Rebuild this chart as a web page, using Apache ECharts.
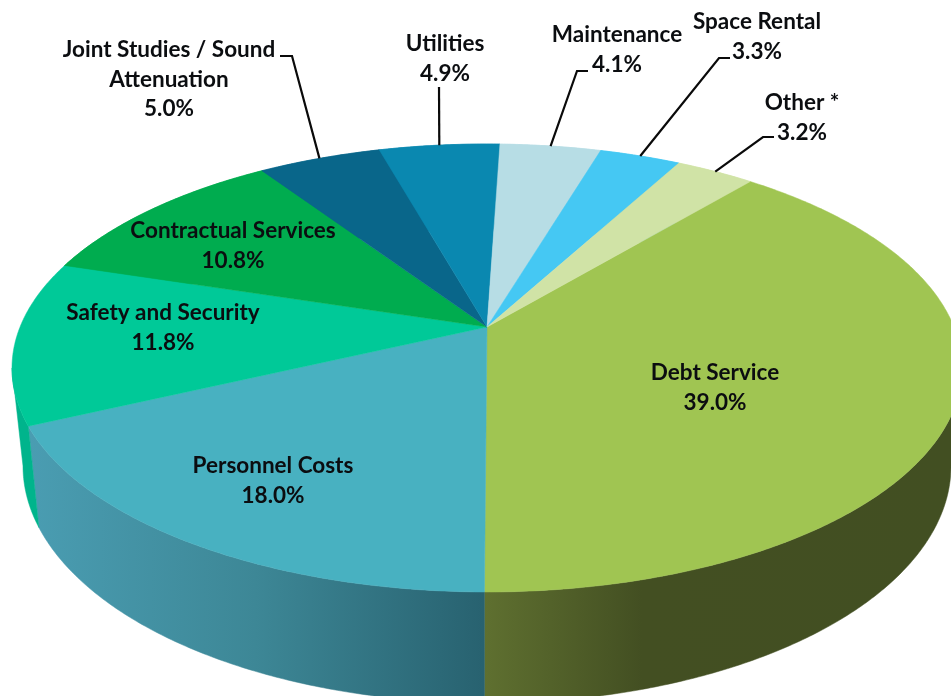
<!DOCTYPE html>
<html>
<head>
<meta charset="utf-8">
<style>
  html, body { margin: 0; padding: 0; background: #fff; }
  #chart { width: 951px; height: 696px; }
</style>
</head>
<body>
<div id="chart"></div>
<script src="https://cdn.jsdelivr.net/npm/echarts@6/dist/echarts.min.js"></script>
<script>
const categories = ['Debt Service', 'Personnel Costs', 'Safety and Security', 'Contractual Services',
  'Joint Studies / Sound\nAttenuation', 'Utilities', 'Maintenance', 'Space Rental', 'Other *'];
const shares = [39.0, 18.0, 11.8, 10.8, 5.0, 4.9, 4.1, 3.3, 3.2];

const faceColors = ['#A0C552', '#48B1C1', '#00C998', '#00AC4F', '#09668A', '#0A88B0', '#B7DDE5', '#45C8F3', '#D0E3A6'];

// the tilted pie: upper rim, lower rim and first slice angle
const topRim = { cx: 487, cy: 368, rx: 475, ry: 224 };
const lowRim = { cx: 487, cy: 466, rx: 464, ry: 237 };
const tilt = -0.183;
const startAngle = 40;

// centre of first text line, for every slice
const labelSpots = [[715, 373], [273, 466], [163, 313], [233, 231], [169, 50], [445, 44], [617, 35], [757, 22], [802, 103]];
// leader lines, drawn from the text to the middle of the slice on the rim
const leaders = {
  4: [[280, 56], [292, 56]],
  5: [[439, 87]],
  6: [[588, 71], [577, 71]],
  7: [[730, 58], [719, 58]],
  8: [[774, 137], [763, 137]]
};

const total = shares.reduce((a, b) => a + b, 0);

function sliceAngles(index) {
  let before = 0;
  for (let i = 0; i < index; i++) before += shares[i];
  return [startAngle + before / total * 360, startAngle + (before + shares[index]) / total * 360];
}

// perspective projection of the circle onto the rim ellipse
function rimPoint(rim, deg) {
  const a = deg * Math.PI / 180;
  const u = Math.sin(a);
  const v = -Math.cos(a);
  const d = 1 + tilt * v;
  return [rim.cx + rim.rx * u * Math.sqrt(1 - tilt * tilt) / d, rim.cy + rim.ry * (v + tilt) / d];
}

function arcPoints(rim, from, to) {
  const steps = Math.max(2, Math.ceil(Math.abs(to - from) * 2));
  const pts = [];
  for (let i = 0; i <= steps; i++) pts.push(rimPoint(rim, from + (to - from) * i / steps));
  return pts;
}

// keep the arc only up to the point where it turns back at the side of the pie,
// so the wall edge runs straight from the upper rim to the lower rim
function toSideEdge(pts, pick) {
  let best = 0;
  pts.forEach((p, i) => {
    if (pick(p[0], pts[best][0])) best = i;
  });
  return pts.slice(0, best + 1);
}

function wallFill(index) {
  if (index === 0) {
    return new echarts.graphic.LinearGradient(483, 0, 951, 0, [
      { offset: 0, color: '#5F7030' }, { offset: 0.34, color: '#434F22' }, { offset: 1, color: '#424F22' }
    ], true);
  }
  if (index === 1) {
    return new echarts.graphic.LinearGradient(28, 0, 483, 0, [
      { offset: 0, color: '#4A9DB2' }, { offset: 0.5, color: '#3D8796' }, { offset: 1, color: '#286270' }
    ], true);
  }
  if (index === 2) return '#00B48C';
  return faceColors[index];
}

function renderWall(params) {
  const i = params.dataIndex;
  const ang = sliceAngles(i);
  let pts;
  if (i === 0) {
    // debt service runs from the right side down to the front
    const up = toSideEdge(arcPoints(topRim, ang[1], ang[0]), (a, b) => a > b);
    const low = toSideEdge(arcPoints(lowRim, ang[1], ang[0]), (a, b) => a > b);
    pts = up.concat(low.reverse());
  } else if (i === 2) {
    // safety and security wraps round the left side
    const up = toSideEdge(arcPoints(topRim, ang[0], ang[1]), (a, b) => a < b);
    const low = toSideEdge(arcPoints(lowRim, ang[0], ang[1]), (a, b) => a < b);
    pts = up.concat(low.reverse());
  } else {
    pts = arcPoints(topRim, ang[0], ang[1]).concat(arcPoints(lowRim, ang[1], ang[0]));
  }
  const fill = wallFill(i);
  return { type: 'polygon', shape: { points: pts }, style: { fill: fill, stroke: fill, lineWidth: 0.5 } };
}

function renderFace(params) {
  const i = params.dataIndex;
  const ang = sliceAngles(i);
  const apex = [topRim.cx, topRim.cy - 41];
  const pts = [apex].concat(arcPoints(topRim, ang[0], ang[1]));
  return { type: 'polygon', shape: { points: pts }, style: { fill: faceColors[i], stroke: faceColors[i], lineWidth: 0.5 } };
}

function renderLabel(params, api) {
  const i = params.dataIndex;
  const children = [];
  if (leaders[i]) {
    const ang = sliceAngles(i);
    const end = rimPoint(topRim, (ang[0] + ang[1]) / 2);
    children.push({
      type: 'polyline',
      shape: { points: leaders[i].concat([end]) },
      style: { fill: 'none', stroke: '#0A0A0A', lineWidth: 2.2 }
    });
  }
  children.push({
    type: 'text',
    x: labelSpots[i][0],
    y: labelSpots[i][1] - 15,
    style: {
      text: categories[i] + '\n' + api.value(0).toFixed(1) + '%',
      fontFamily: 'Lato',
      fontWeight: 'bold',
      fontSize: 22.5,
      lineHeight: 29.5,
      fill: '#0B0D10',
      align: 'center',
      verticalAlign: 'top'
    }
  });
  return { type: 'group', children: children };
}

const myChart = echarts.init(document.getElementById('chart'));
myChart.setOption({
  backgroundColor: '#FFFFFF',
  animation: false,
  series: [
    { type: 'custom', coordinateSystem: 'none', z: 1, renderItem: renderWall, data: shares, silent: true },
    { type: 'custom', coordinateSystem: 'none', z: 2, renderItem: renderFace, data: shares, silent: true },
    { type: 'custom', coordinateSystem: 'none', z: 3, renderItem: renderLabel, data: shares, silent: true }
  ]
});
</script>
</body>
</html>
